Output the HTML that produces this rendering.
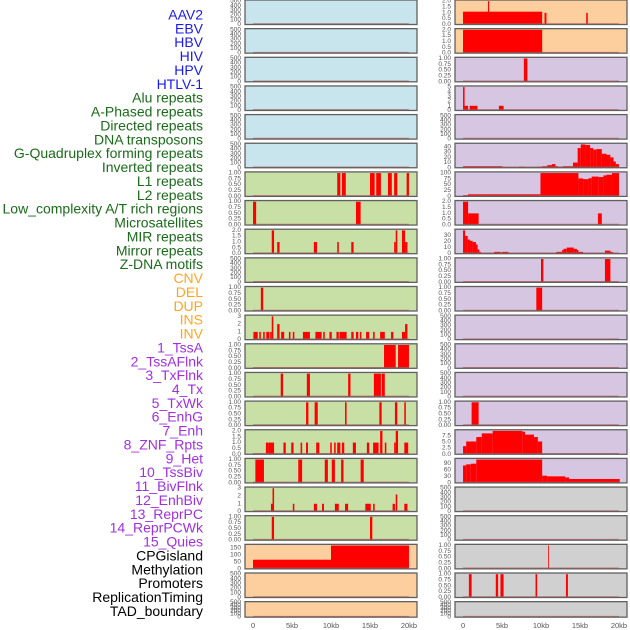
<!DOCTYPE html>
<html><head><meta charset="utf-8">
<style>
html,body{margin:0;padding:0;background:#fff;width:630px;height:630px;overflow:hidden}
svg text{font-family:"Liberation Sans",sans-serif}
</style></head>
<body>
<svg id="chart" width="630" height="630" viewBox="0 0 630 630" xmlns="http://www.w3.org/2000/svg"></svg>
<script>
const trackLabels = ["AAV2","EBV","HBV","HIV","HPV","HTLV-1","Alu repeats","A-Phased repeats","Directed repeats","DNA transposons","G-Quadruplex forming repeats","Inverted repeats","L1 repeats","L2 repeats","Low_complexity A/T rich regions","Microsatellites","MIR repeats","Mirror repeats","Z-DNA motifs","CNV","DEL","DUP","INS","INV","1_TssA","2_TssAFlnk","3_TxFlnk","4_Tx","5_TxWk","6_EnhG","7_Enh","8_ZNF_Rpts","9_Het","10_TssBiv","11_BivFlnk","12_EnhBiv","13_ReprPC","14_ReprPCWk","15_Quies","CPGisland","Methylation","Promoters","ReplicationTiming","TAD_boundary"];
const labelColors = ["#1a1aee","#1a1aee","#1a1aee","#1a1aee","#1a1aee","#1a1aee","#1a6b1a","#1a6b1a","#1a6b1a","#1a6b1a","#1a6b1a","#1a6b1a","#1a6b1a","#1a6b1a","#1a6b1a","#1a6b1a","#1a6b1a","#1a6b1a","#1a6b1a","#ffa520","#ffa520","#ffa520","#ffa520","#ffa520","#a030e0","#a030e0","#a030e0","#a030e0","#a030e0","#a030e0","#a030e0","#a030e0","#a030e0","#a030e0","#a030e0","#a030e0","#a030e0","#a030e0","#a030e0","#000","#000","#000","#000","#000"];
const xTickValues = [0,5,10,15,20];
const xTickLabels = ["0","5kb","10kb","15kb","20kb"];
const ticksEmpty = [0,100,200,300,400,500];
const ticks01 = [0,0.25,0.5,0.75,1];
const ticks02 = [0,0.5,1,1.5,2];
const ticks03 = [0,1,2,3];
const ticks05 = [0,1,2,3,4,5];
const ticks040 = [0,10,20,30,40];
const ticks030 = [0,10,20,30];
const ticks0100 = [0,25,50,75,100];
const ticks075 = [0,2.5,5,7.5];
const ticks090 = [0,30,60,90];
const ticks0150 = [0,50,100,150];

const barsL6 = [[10.8,11.2,1],[11.4,11.9,1],[15.0,15.6,1],[15.8,16.4,1],[17.3,17.8,1],[18.1,18.5,1],[19.7,20.0,1]];
const barsL7 = [[0,0.4,1],[13.2,13.8,1]];
const barsL8 = [[2.4,2.7,2],[3.1,3.4,1],[7.8,8.2,1],[10.8,11.0,1],[12.6,12.9,1],[18.1,18.3,1],[18.3,18.5,2],[19.1,19.5,2],[19.5,19.8,1]];
const barsL10 = [[1.0,1.3,1]];
const barsL11 = [[0.05,0.6,1],[0.8,1.0,1],[1.3,1.5,1],[1.7,2.1,1],[2.2,2.4,1],[2.4,2.6,3],[3.1,3.4,2],[3.6,4.0,1],[4.6,4.8,1],[5.1,5.3,1],[6.4,7.3,1],[8.0,8.8,1],[9.0,9.2,1],[9.8,10.1,1],[10.7,11.0,1],[11.1,12.0,1],[12.6,12.9,1],[13.2,13.5,1],[13.7,13.9,1],[14.5,14.9,1],[15.4,15.6,1],[16.3,16.9,1],[17.7,18.0,1],[19.1,19.5,1],[19.5,19.8,2]];
const barsL12 = [[16.8,18.3,1],[18.6,20.0,1]];
const barsL13 = [[3.55,3.85,1],[6.9,7.3,1],[12.2,12.5,1],[15.5,16.4,1],[16.5,16.9,1]];
const barsL14 = [[6.8,7.1,1],[7.9,8.3,1],[11.8,12.0,1],[16.2,16.5,1],[18.2,18.5,1],[19.4,19.6,1]];
const barsL15 = [[1.65,2.0,1],[2.0,2.7,1],[3.9,4.2,1],[4.9,5.2,1],[6.1,6.3,1],[6.8,7.05,1],[8.1,8.5,1],[9.9,10.1,1],[10.4,10.6,1],[10.8,11.2,1],[11.4,11.7,1],[12.8,13.2,1],[14.6,14.9,1],[15.4,16.1,1],[16.3,16.6,2],[16.9,17.1,1],[18.1,18.3,1],[18.3,18.6,2],[19.4,19.9,1]];
const barsL16 = [[0.3,1.4,1],[5.8,6.3,1],[9.2,9.6,1],[10.1,10.5,1],[11.3,11.6,1],[13.8,14.2,1]];
const barsL17 = [[2.3,2.5,1],[2.5,2.7,3],[5.1,5.3,1],[7.8,8.2,1],[8.85,9.1,1],[10.5,11.0,1],[11.8,12.2,1],[14.4,15.1,1],[15.4,15.6,1],[17.9,18.2,1],[18.3,18.5,2.2],[19.4,19.8,1]];
const barsL18 = [[2.4,2.7,1],[15.0,15.3,1]];
const barsL19 = [[0,10,65],[10,20,166]];

const barsR0 = [[0,10.15,1.1],[3.2,3.35,2],[10.45,10.7,1],[15.8,16.0,1]];
const barsR1 = [[0,10.15,2]];
const barsR2 = [[7.8,8.25,1]];
const barsR3 = [[0,0.2,5],[0.2,0.65,1],[0.85,1.85,1],[4.6,5.2,1]];
const barsR5 = [[0,5.05,3],[7.13,8.0,2],[9.5,10.15,2],[10.15,10.8,3],[10.8,11.4,5],[11.4,11.85,7],[11.85,12.2,3],[12.2,12.8,2],[12.8,14.1,3],[14.1,14.7,10],[14.7,15.1,38],[15.1,15.7,45],[15.7,16.3,44],[16.3,16.7,38],[16.7,17.1,35],[17.1,17.8,36],[17.8,18.4,27],[18.4,18.9,25],[18.9,19.3,20],[19.3,19.6,12],[19.6,20.0,7]];
const barsR6 = [[0,0.64,5],[0.64,9.93,9],[9.93,14.8,100],[14.8,15.4,77],[15.4,16.1,74],[16.1,16.5,78],[16.5,17.4,85],[17.4,18.0,83],[18.0,18.4,90],[18.4,19.1,93],[19.1,20.0,100]];
const barsR7 = [[0,0.65,2],[0.65,2.0,1],[17.3,17.8,1]];
const barsR8 = [[0,0.26,38],[0.26,0.6,29],[0.6,0.9,23],[0.9,1.23,21],[1.23,1.66,19],[1.66,1.87,15],[1.87,2.08,7],[2.08,2.3,3],[3.99,4.84,3],[4.97,5.82,3],[11.97,12.7,3],[12.7,12.9,6],[12.9,13.3,8],[13.3,14.2,10],[14.2,14.6,8],[14.6,14.8,6],[14.8,15.4,3],[18.2,18.9,5],[18.9,19.2,3]];
const barsR9 = [[10.0,10.3,1],[18.2,18.9,1]];
const barsR10 = [[9.4,10.15,1]];
const barsR14 = [[1.1,2.0,1]];
const barsR15 = [[0,0.4,3.3],[0.4,1.7,5.2],[1.7,2.4,7],[2.4,3.8,8.5],[3.8,7.6,9.5],[7.6,7.95,9.2],[7.95,9.1,8],[9.1,9.6,7],[9.6,10.15,5.2]];
const barsR16 = [[0,0.4,80],[0.4,1.0,85],[1.0,1.7,88],[1.7,10.15,107],[10.15,10.8,33],[10.8,13.1,30],[13.1,13.6,25],[13.6,20.1,18]];
const barsR19 = [[10.9,11.0,1]];
const barsR20 = [[0.75,1.1,1],[4.2,4.5,1],[4.8,5.2,1],[9.3,9.5,1],[13.2,13.45,1]];

const E = [];
const leftPanels = [
 [E,ticksEmpty,0],[E,ticksEmpty,0],[E,ticksEmpty,0],[E,ticksEmpty,0],[E,ticksEmpty,0],[E,ticksEmpty,0],
 [barsL6,ticks01,2],[barsL7,ticks01,2],[barsL8,ticks02,1],[E,ticksEmpty,0],[barsL10,ticks01,2],
 [barsL11,ticks03,0],[barsL12,ticks01,2],[barsL13,ticks01,2],[barsL14,ticks01,2],[barsL15,ticks02,1],
 [barsL16,ticks01,2],[barsL17,ticks03,0],[barsL18,ticks01,2],[barsL19,ticks0150,0],[E,ticksEmpty,0],[E,ticksEmpty,0]];
const rightPanels = [
 [barsR0,ticks02,1],[barsR1,ticks02,1],[barsR2,ticks01,2],[barsR3,ticks05,0],[E,ticksEmpty,0],
 [barsR5,ticks040,0],[barsR6,ticks0100,0],[barsR7,ticks02,1],[barsR8,ticks030,0],[barsR9,ticks01,2],
 [barsR10,ticks01,2],[E,ticksEmpty,0],[E,ticksEmpty,0],[E,ticksEmpty,0],[barsR14,ticks01,2],
 [barsR15,ticks075,1],[barsR16,ticks090,0],[E,ticksEmpty,0],[E,ticksEmpty,0],[barsR19,ticks01,2],[barsR20,ticks01,2],[E,ticksEmpty,0]];

const NS = "http://www.w3.org/2000/svg";
const svg = document.getElementById("chart");
function mk(tag, attrs, parent){const e=document.createElementNS(NS,tag);for(const k in attrs)e.setAttribute(k,attrs[k]);(parent||svg).appendChild(e);return e;}

// labels
trackLabels.forEach((t,i)=>{
  const el = mk("text",{x:203,y:14.5+i*13.87,"text-anchor":"end","dominant-baseline":"central","font-size":"14",fill:labelColors[i]});
  el.textContent = t;
  
  
});

function bgColor(col,row){
  if(col===0){ if(row<6) return "#c8e4ec"; if(row<19) return "#c8e0a6"; return "#fecf9e"; }
  if(row<2) return "#fecf9e"; if(row<17) return "#d6c6e2"; return "#d0d0d0";
}
const colX0 = [245,455], panelW = 172, xMin = -1.03, xMax = 21.03;
function xScale(col,kb){ return colX0[col] + (kb - xMin)/(xMax - xMin)*panelW; }

function drawPanel(col,row,spec){
  const [bars,ticks,dec] = spec;
  const top = row*28.65, h = row===21 ? 15.5 : 24.5;
  const g = mk("g",{});
  
  
  mk("rect",{x:colX0[col],y:top,width:panelW,height:h,fill:bgColor(col,row)},g);
  let maxV = ticks[ticks.length-1];
  bars.forEach(b=>{ if(b[2]>maxV) maxV=b[2]; });
  const ylim = maxV*1.05;
  const yScale = v => top + h - v/ylim*h;
  bars.forEach(b=>{
    const x1 = xScale(col,b[0]), x2 = xScale(col,b[1]);
    const r = mk("rect",{x:x1,y:yScale(b[2]),width:Math.max(x2-x1,0.8),height:top+h-yScale(b[2]),fill:"#ff0000"},g);
    
    
  });
  mk("line",{x1:xScale(col,0),x2:xScale(col,20),y1:top+h-0.8,y2:top+h-0.8,stroke:"#c05050","stroke-width":1,opacity:0.7},g);
  mk("rect",{x:colX0[col],y:top,width:panelW,height:h,fill:"none",stroke:"#606060","stroke-width":1.3},g);
  ticks.forEach(t=>{
    const tx = mk("text",{x:colX0[col]-4,y:yScale(t),"text-anchor":"end","dominant-baseline":"central","font-size":"6.5",fill:"#555"},g);
    tx.textContent = t.toFixed(dec);
    
    
  });
}
leftPanels.forEach((p,i)=>drawPanel(0,i,p));
rightPanels.forEach((p,i)=>drawPanel(1,i,p));

[0,1].forEach(col=>{
  xTickValues.forEach((v,i)=>{
    const tx = mk("text",{x:xScale(col,v),y:628,"text-anchor":"middle","font-size":"7.5",fill:"#555"});
    tx.textContent = xTickLabels[i];
    
    
  });
});
</script>
</body></html>
